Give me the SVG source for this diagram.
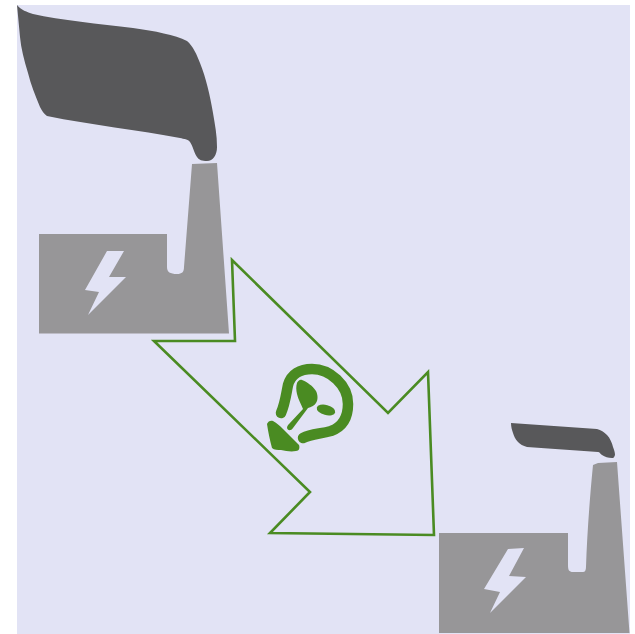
<svg xmlns="http://www.w3.org/2000/svg" width="635" height="634" viewBox="0 0 635 634">
<style>
.smoke{fill:#58585a}
.factory{fill:#979698}
.bolt{fill:#e2e3f5}
.green{fill:#4a8b22}
.ring{fill:none;stroke:#4a8b22;stroke-width:10.500;stroke-linecap:round;stroke-linejoin:round}
.arrow{fill:none;stroke:#4a8b22;stroke-width:2.6;stroke-linejoin:miter}
</style>
<rect width="635" height="634" fill="#ffffff"/>
<rect x="17" y="5" width="613" height="629" fill="#e2e3f5"/>
<g id="factory-large">
<path class="smoke" d="M17 5C21 10 27 12 33 14C60 20 100 24 133 28C155 31 175 35 187 41C193 46 197 55 200 63C206 78 210 95 213 113C215 125 217 135 217 147C217 155 213 161 207 161C202 161 199 160 197 157C194 153 193 146 190 142C188 139 184 139 180 138C140 130 90 125 47 116C44 114 42 111 40 107C35 95 31 85 28 73C24 60 21 48 20 37Z"/>
<path class="factory" d="M192 164L217 163L229 333.500H39V234H167V267C167 272 170 274 177 274C182 274 184 272 184 267Z"/>
<path class="bolt" d="M107 251H124L109 277H126L88 315L99 292L85 290Z"/>
</g>
<g id="connector">
<path class="arrow" d="M232 260L235 341H154L310 492L270 533L434 535L428 372L388 413Z"/>
</g>
<g id="bulb-icon">
<path class="ring" d="M281 413C285 404 286 395 288 385C291 374 300 369 312 369C330 369 348 385 348 404C348 418 342 427 331 431C320 434 311 434 303 438"/>
<path class="green" d="M302 380C307 382 313 386 316 391C318 395 318 400 316 403C314 406 311 407 308 408L293 428C291 431 288 431 287 428C287 426 288 425 289 424L303 409C301 404 298 399 297 394C296 390 296 386 297 383C298 381 300 379 302 380Z"/>
<ellipse class="green" cx="326" cy="410" rx="9.500" ry="5" transform="rotate(15 326 410)"/>
<path class="green" d="M267 424C268 421 271 420 273 421C277 423 280 426 283 429L299 445C300 448 299 451 296 451C291 452 286 451 281 450C278 450 274 450 272 448C270 441 268 431 267 424Z"/>
</g>
<g id="factory-small">
<path class="smoke" d="M511 423L597 429C601 430 604 432 607 435C610 438 612 443 613 447C614 450 615 452 615 455C614 458 613 458 612 458C608 458 605 457 602 455C600 454 600 452 598 452C575 450 550 449 527 447C523 446 520 444 518 442C515 439 514 436 513 433C512 430 511 427 511 423Z"/>
<path class="factory" d="M593 465L598 463L617 462L629.500 633H439V533H568V565C568 570 569 572 573 572H583C585 572 586 570 586 567C587 535 590 495 593 465Z"/>
<path class="bolt" d="M508 549L524 548L509 576L526 577L490 613L500 592L484 589Z"/>
</g>
</svg>
